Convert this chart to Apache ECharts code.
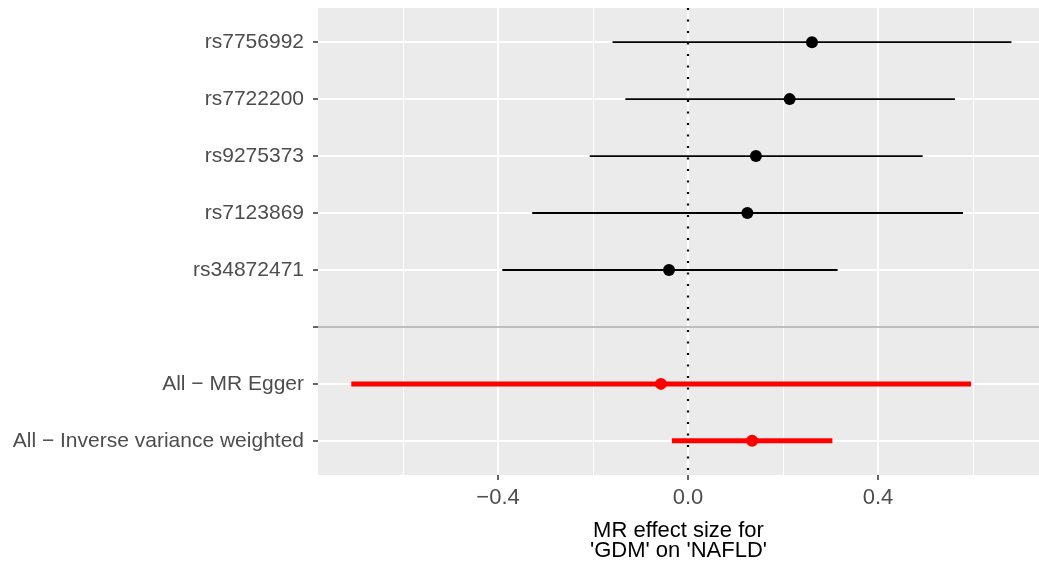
<!DOCTYPE html>
<html>
<head>
<meta charset="utf-8">
<script src="https://cdn.jsdelivr.net/npm/echarts@6/dist/echarts.min.js"></script>
<style>
html,body{margin:0;padding:0;background:#fff}
#main{width:1039px;height:565px}
</style>
</head>
<body>
<div id="main"></div>
<script>
// rows from top to bottom, the '' row is the gap before the summary rows
var labels = ['rs7756992', 'rs7722200', 'rs9275373', 'rs7123869', 'rs34872471', '', 'All − MR Egger', 'All − Inverse variance weighted'];

// single SNP estimates (black)
var snpRows = [0, 1, 2, 3, 4];
var snpB = [0.261, 0.214, 0.143, 0.125, -0.040];
var snpLo = [-0.159, -0.132, -0.207, -0.328, -0.391];
var snpHi = [0.681, 0.562, 0.494, 0.579, 0.315];

// combined estimates (red)
var allRows = [6, 7];
var allB = [-0.057, 0.135];
var allLo = [-0.709, -0.034];
var allHi = [0.596, 0.304];

var xMajor = [-0.4, 0, 0.4];
var xMinor = [-0.6, -0.2, 0.2, 0.6];
var rowTicks = [0, 1, 2, 3, 4, 5, 6, 7];
var sepRow = 5;

var font = 'Liberation Sans, Arial, sans-serif';

function rangeData(rows, lo, hi) {
	var res = [];
	for (var i = 0; i < rows.length; i++) res.push([lo[i], hi[i], rows[i]]);
	return res;
}
function pointData(rows, b) {
	var res = [];
	for (var i = 0; i < rows.length; i++) res.push([b[i], rows[i]]);
	return res;
}
function barRender(width, color) {
	return function (params, api) {
		var a = api.coord([api.value(0), api.value(2)]);
		var b = api.coord([api.value(1), api.value(2)]);
		return {
			type: 'line',
			shape: { x1: a[0], y1: a[1], x2: b[0], y2: b[1] },
			style: { stroke: color, lineWidth: width }
		};
	};
}

var myChart = echarts.init(document.getElementById('main'));

var option = {
	animation: false,
	backgroundColor: '#fff',
	textStyle: { fontFamily: font },
	grid: {
		left: 318, right: 0, top: 8, bottom: 90,
		outerBoundsMode: 'none',
		show: true, backgroundColor: '#EBEBEB', borderWidth: 0
	},
	xAxis: [{
		type: 'value',
		min: -0.779, max: 0.739,
		axisLine: { show: false, onZero: false },
		axisTick: { show: true, customValues: xMajor, length: 5, lineStyle: { color: '#333', width: 1.5 } },
		axisLabel: {
			customValues: xMajor, color: '#4D4D4D', fontSize: 22, margin: 12,
			formatter: function (v) { return v.toFixed(1).replace('-', '−'); }
		},
		splitLine: { show: true, lineStyle: { color: '#fff', width: 2 } },
		name: "MR effect size for\n'GDM' on 'NAFLD'",
		nameLocation: 'middle',
		nameGap: 46,
		nameTextStyle: { color: '#000', fontSize: 22, lineHeight: 20 }
	}, {
		// minor grid lines only
		type: 'value',
		min: -0.779, max: 0.739,
		position: 'bottom',
		axisLine: { show: false, onZero: false },
		axisTick: { show: false, customValues: xMinor },
		axisLabel: { show: false, customValues: xMinor },
		splitLine: { show: true, lineStyle: { color: '#fff', width: 1 } }
	}],
	yAxis: {
		type: 'value',
		inverse: true,
		min: -0.6, max: 7.6,
		axisLine: { show: false, onZero: false },
		axisTick: { customValues: rowTicks, length: 5, lineStyle: { color: '#333', width: 1.5 } },
		axisLabel: {
			customValues: rowTicks, color: '#4D4D4D', fontSize: 21, margin: 14,
			formatter: function (v) { return labels[Math.round(v)]; }
		},
		splitLine: { show: true, lineStyle: { color: '#fff', width: 2 } }
	},
	series: [{
		type: 'line',
		data: [],
		z: 1,
		silent: true,
		markLine: {
			silent: true,
			symbol: 'none',
			label: { show: false },
			data: [
				{ yAxis: sepRow, lineStyle: { color: '#BEBEBE', width: 2, type: 'solid' } },
				{ xAxis: 0, lineStyle: { color: '#000', width: 2.2, type: [2, 9.5] } }
			]
		}
	}, {
		type: 'custom',
		z: 2,
		renderItem: barRender(1.8, '#000'),
		encode: { x: [0, 1], y: 2 },
		data: rangeData(snpRows, snpLo, snpHi)
	}, {
		type: 'custom',
		z: 2,
		renderItem: barRender(5, '#FF0000'),
		encode: { x: [0, 1], y: 2 },
		data: rangeData(allRows, allLo, allHi)
	}, {
		type: 'scatter',
		z: 3,
		symbolSize: 12,
		itemStyle: { color: '#000', opacity: 1 },
		data: pointData(snpRows, snpB)
	}, {
		type: 'scatter',
		z: 3,
		symbolSize: 12,
		itemStyle: { color: '#FF0000', opacity: 1 },
		data: pointData(allRows, allB)
	}]
};

myChart.setOption(option);
</script>
</body>
</html>
